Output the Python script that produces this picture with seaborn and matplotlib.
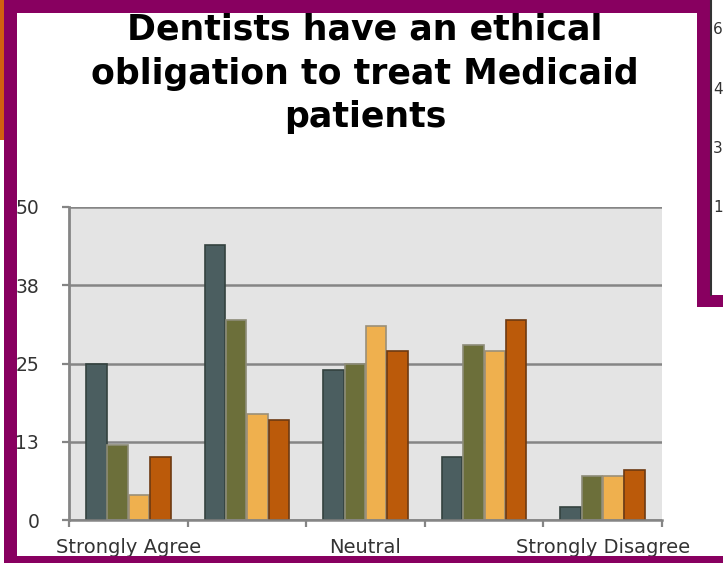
import numpy as np
import pandas as pd
import seaborn as sns
import matplotlib.pyplot as plt
from matplotlib.patches import Rectangle
from matplotlib.lines import Line2D

# Survey responses
categories = ["Strongly Agree", "Agree", "Neutral", "Disagree", "Strongly Disagree"]
series_names = ["Series 1", "Series 2", "Series 3", "Series 4"]
series_1 = [25, 44, 24, 10, 2]
series_2 = [12, 32, 25, 28, 7]
series_3 = [4, 17, 31, 27, 7]
series_4 = [10, 16, 27, 32, 8]
x_tick_labels = ["Strongly Agree", "", "Neutral", "", "Strongly Disagree"]
y_ticks = [0, 12.5, 25, 37.5, 50]
y_tick_labels = ["0", "13", "25", "38", "50"]
side_labels = ["6", "4", "3", "1"]
title = "Dentists have an ethical\nobligation to treat Medicaid\npatients"

fills = ["#4b5e60", "#6c6f3a", "#efb04e", "#bb5a0a"]
edges = ["#34423f", "#8d8c78", "#9a8f78", "#6e3a12"]

df = pd.DataFrame({
    "response": categories * 4,
    "series": sum([[s] * len(categories) for s in series_names], []),
    "count": series_1 + series_2 + series_3 + series_4,
})

sns.set_style("white")
plt.rcParams["font.family"] = ["DejaVu Sans"]

W, H = 723, 563
fig = plt.figure(figsize=(W / 100, H / 100), dpi=100)
fig.patch.set_facecolor("white")

ax = fig.add_axes([69 / W, 43 / H, 593 / W, 313 / H])
sns.barplot(data=df, x="response", y="count", hue="series",
            order=categories, hue_order=series_names,
            palette=fills, saturation=1, width=0.72, gap=0.04,
            linewidth=1.2, legend=False, ax=ax)
for cont, ec in zip(ax.containers, edges):
    for bar in cont:
        bar.set_edgecolor(ec)

grid_c = "#858585"
ax.set_facecolor("#e4e4e4")
ax.set_xlim(-0.5, 4.5)
ax.set_ylim(0, 50)
ax.set_axisbelow(True)
ax.yaxis.grid(True, color=grid_c, lw=1.8)
ax.xaxis.grid(False)
ax.set_yticks(y_ticks)
ax.set_yticklabels(y_tick_labels)
ax.set_xticks(range(len(categories)))
ax.set_xticklabels(x_tick_labels)
ax.set_xticks(np.arange(-0.5, 5.0, 1.0), minor=True)
ax.set_xlabel("")
ax.set_ylabel("")
ax.tick_params(axis="y", which="major", direction="out", length=5, width=1.6,
               color=grid_c, pad=16.5, labelsize=13.5, labelcolor="#333333", left=True)
ax.tick_params(axis="x", which="major", length=0, pad=13,
               labelsize=14, labelcolor="#333333")
ax.tick_params(axis="x", which="minor", direction="out", length=5, width=1.6,
               color=grid_c, bottom=True)
for side in ["top", "right"]:
    ax.spines[side].set_visible(False)
ax.spines["left"].set_color(grid_c)
ax.spines["left"].set_linewidth(2)
ax.spines["bottom"].set_color(grid_c)
ax.spines["bottom"].set_linewidth(1.8)

fig.text(365 / W, 1 - 13 / H, title, ha="center", va="top", ma="center",
         fontsize=25, fontweight="bold", color="#000000", linespacing=1.36)


def frame_rect(x, y_top, w, h, color):
    fig.add_artist(Rectangle((x / W, 1 - (y_top + h) / H), w / W, h / H,
                             transform=fig.transFigure, facecolor=color,
                             edgecolor="none", zorder=5))


purple = "#880060"
# slide frame
frame_rect(0, 0, 4, 140, "#d2600f")
frame_rect(4, 0, 13, H, purple)
frame_rect(4, 0, 706, 13, purple)
frame_rect(697, 0, 13, 307, purple)
frame_rect(697, 295, 26, 12, purple)
frame_rect(4, 556, W - 4, 7, purple)
frame_rect(710, 0, 13, 295, "white")
fig.add_artist(Line2D([711 / W, 711 / W], [1, 1 - 295 / H], transform=fig.transFigure,
                      color="#333333", lw=1.5, zorder=6))
for lab, yp in zip(side_labels, [30, 89, 148, 208]):
    fig.text(713 / W, 1 - yp / H, lab, ha="left", va="center", fontsize=11,
             color="#333333", zorder=7)

fig.savefig("out.png", dpi=100)
